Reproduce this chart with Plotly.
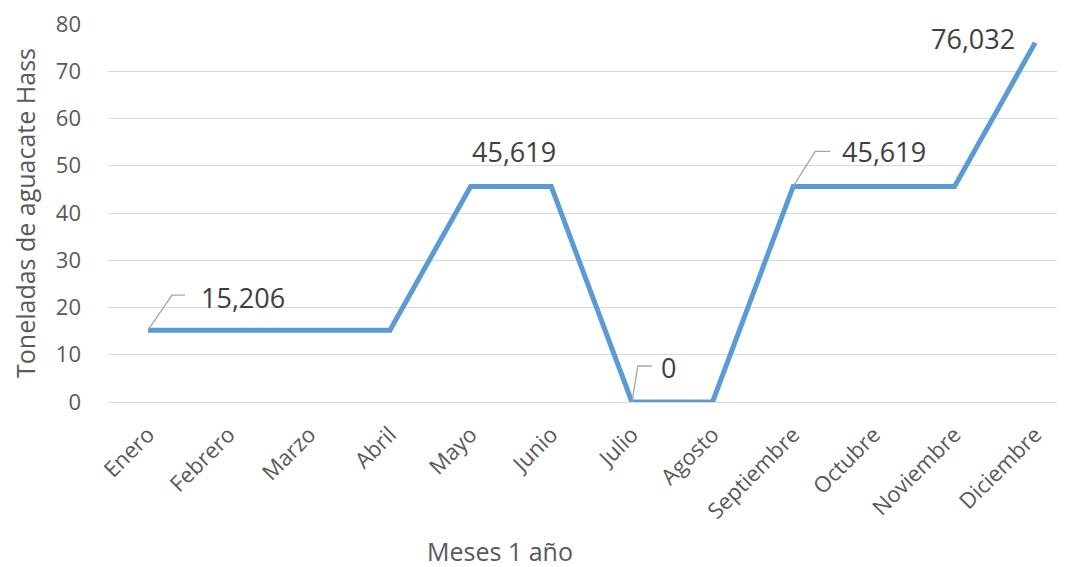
import plotly.graph_objects as go

months = ["Enero", "Febrero", "Marzo", "Abril", "Mayo", "Junio", "Julio",
          "Agosto", "Septiembre", "Octubre", "Noviembre", "Diciembre"]
toneladas = [15.206, 15.206, 15.206, 15.206, 45.619, 45.619, 0, 0,
             45.619, 45.619, 45.619, 76.032]
y_ticks = [0, 10, 20, 30, 40, 50, 60, 70, 80]
label_idx = [0, 4, 6, 8, 11]
y_title = "Toneladas de aguacate Hass"
x_title = "Meses 1 año"

FONT = "Open Sans"
GREY = "#595959"

def fmt(v):
    return "0" if v == 0 else f"{v:.3f}".replace(".", ",")

fig = go.Figure()
fig.add_trace(go.Scatter(
    x=months, y=toneladas, mode="lines",
    line=dict(color="#5B9BD5", width=5),
    cliponaxis=False, hoverinfo="skip", showlegend=False))

# label placement (pixel offsets) and leader lines
offsets = {0: (95, 33, "M0,0 L24,35 L37,35"),
           4: (43, 35, None),
           6: (37, 35, "M0,0 L6,36 L20,36"),
           8: (91, 35, "M0,0 L22,35 L37,35"),
           11: (-62, 4, None)}
for i in label_idx:
    dx, dy, path = offsets[i]
    fig.add_annotation(x=months[i], y=toneladas[i], xref="x", yref="y",
                       text=fmt(toneladas[i]), showarrow=False,
                       xshift=dx, yshift=dy,
                       font=dict(family=FONT, size=27, color="#404040"))
    if path:
        fig.add_shape(type="path", xref="x", yref="y",
                      xsizemode="pixel", ysizemode="pixel",
                      xanchor=months[i], yanchor=toneladas[i],
                      path=path, line=dict(color="#A6A6A6", width=1.3))

fig.add_annotation(xref="paper", yref="paper", x=0, y=0.5, xshift=-83,
                   xanchor="center", yanchor="middle",
                   text=y_title, textangle=-90, showarrow=False,
                   font=dict(family=FONT, size=25, color=GREY))
fig.add_annotation(xref="paper", yref="paper", x=0, y=0, xshift=392,
                   yshift=-149, text=x_title, showarrow=False,
                   xanchor="center", yanchor="middle",
                   font=dict(family=FONT, size=25, color=GREY))

fig.update_layout(
    width=1057, height=559,
    margin=dict(l=100, r=0, t=13, b=165),
    paper_bgcolor="white", plot_bgcolor="white",
    font=dict(family=FONT, color=GREY),
    xaxis=dict(type="category", range=[-0.496, 11.37], tickangle=-45,
               tickfont=dict(size=22, color=GREY), showgrid=False,
               showline=True, linecolor="#D9D9D9", linewidth=1,
               ticks="", fixedrange=True, ticklabelstandoff=10,
               ticklabeloverflow="allow"),
    yaxis=dict(range=[0, 80], tickvals=y_ticks, tickfont=dict(size=22, color=GREY),
               showgrid=True, gridcolor="#D9D9D9", gridwidth=1,
               zeroline=False, showline=False, ticks="", ticklabelstandoff=26,
               ticklabeloverflow="allow"),
)

fig.write_html("out.html")
